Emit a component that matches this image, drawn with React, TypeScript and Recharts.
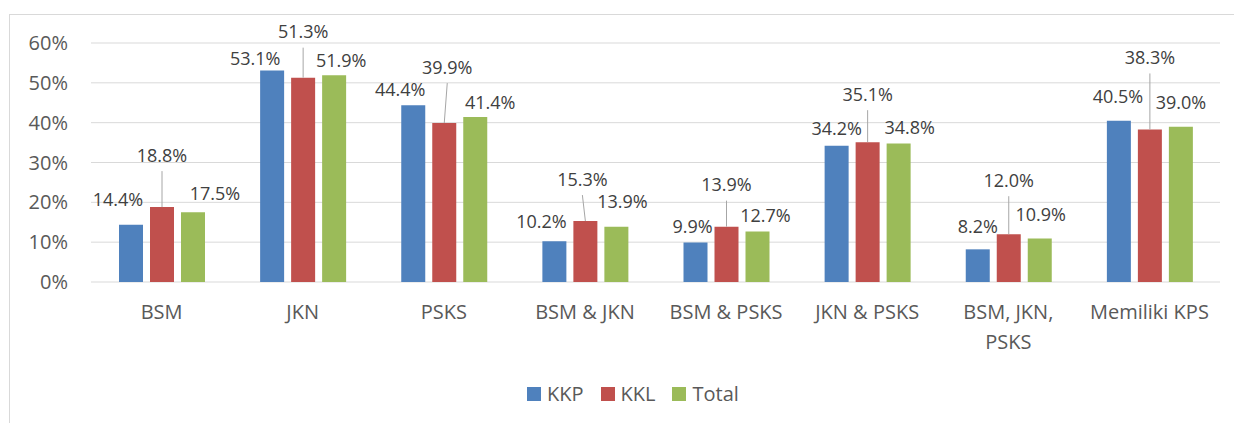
import { BarChart, Bar, XAxis, YAxis, CartesianGrid, LabelList } from "recharts";

const categories = [
  "BSM",
  "JKN",
  "PSKS",
  "BSM & JKN",
  "BSM & PSKS",
  "JKN & PSKS",
  "BSM, JKN, PSKS",
  "Memiliki KPS",
];

const kkp = [14.4, 53.1, 44.4, 10.2, 9.9, 34.2, 8.2, 40.5];
const kkl = [18.8, 51.3, 39.9, 15.3, 13.9, 35.1, 12.0, 38.3];
const total = [17.5, 51.9, 41.4, 13.9, 12.7, 34.8, 10.9, 39.0];

const yTicks = [0, 10, 20, 30, 40, 50, 60];

// label nudges (dx, dy) from the top centre of each bar, like the hand-placed labels in the original
const kkpNudge = [[-13, -25], [-17, -12], [-13, -16], [-13, -20], [-3, -16], [0, -17], [0, -23], [-1, -24]];
const kklNudge = [[0, -52], [0, -46], [3, -56], [-3, -42], [0, -42], [0, -48], [0, -54], [0, -72]];
const totalNudge = [[22, -19], [7, -15], [15, -15], [6, -25], [8, -16], [11, -16], [1, -24], [0, -24]];

const data = categories.map((name, i) => ({
  name,
  kkp: kkp[i],
  kkl: kkl[i],
  total: total[i],
}));

const FONT = "'Open Sans', 'Liberation Sans', sans-serif";

const series = [
  { key: "kkp", label: "KKP", color: "#4F81BD" },
  { key: "kkl", label: "KKL", color: "#C0504D" },
  { key: "total", label: "Total", color: "#9BBB59" },
];

function makeLabel(nudges: number[][], leader: boolean) {
  return (props: any) => {
    const { x, y, width, value, index } = props;
    const [dx, dy] = nudges[index] || [0, -14];
    const cx = Number(x) + Number(width) / 2;
    const top = Number(y);
    const lx = cx + dx;
    const ly = top + dy;
    return (
      <g>
        {leader && (
          <line x1={lx} y1={ly + 16} x2={cx} y2={top} stroke="#a6a6a6" strokeWidth={1} />
        )}
        <text
          x={lx}
          y={ly}
          dy="0.36em"
          textAnchor="middle"
          fill="#404040"
          fontSize={18}
          fontFamily={FONT}
        >
          {Number(value).toFixed(1)}%
        </text>
      </g>
    );
  };
}

// greedy word wrap, about 12 characters a line
function wrap(label: string, max = 12) {
  const lines: string[] = [];
  let cur = "";
  for (const w of label.split(" ")) {
    const next = cur ? cur + " " + w : w;
    if (next.length > max && cur) {
      lines.push(cur);
      cur = w;
    } else {
      cur = next;
    }
  }
  if (cur) lines.push(cur);
  return lines;
}

function CategoryTick(props: any) {
  const { x, y, payload } = props;
  const lines = wrap(String(payload.value));
  return (
    <text x={x} y={y} textAnchor="middle" fill="#595959" fontSize={20} fontFamily={FONT}>
      {lines.map((l, i) => (
        <tspan key={i} x={x} dy={i === 0 ? "0.71em" : 30}>
          {l}
        </tspan>
      ))}
    </text>
  );
}

export default function App() {
  return (
    <div
      style={{
        position: "absolute",
        left: 0,
        top: 0,
        width: 1234,
        height: 423,
        overflow: "hidden",
        background: "#fff",
        fontFamily: FONT,
      }}
    >
      <div
        style={{
          position: "absolute",
          left: 9,
          top: 14,
          width: 1300,
          height: 500,
          border: "1px solid #d9d9d9",
        }}
      />
      <div style={{ position: "absolute", left: 0, top: 0 }}>
        <BarChart
          width={1234}
          height={423}
          data={data}
          margin={{ top: 43, right: 14, bottom: 81, left: 0 }}
          barSize={24}
          barGap={7}
        >
          <CartesianGrid vertical={false} stroke="#d9d9d9" strokeWidth={1} />
          <YAxis
            width={91}
            domain={[0, 60]}
            ticks={yTicks}
            tickFormatter={(v) => `${v}%`}
            axisLine={false}
            tickLine={false}
            tickSize={0}
            tickMargin={23}
            tick={{ fill: "#595959", fontSize: 20, fontFamily: FONT }}
          />
          <XAxis
            dataKey="name"
            height={60}
            axisLine={false}
            tickLine={false}
            tickSize={0}
            tickMargin={23}
            interval={0}
            tick={(p: any) => <CategoryTick {...p} />}
          />
          <Bar dataKey="kkp" fill="#4F81BD" isAnimationActive={false}>
            <LabelList dataKey="kkp" content={makeLabel(kkpNudge, false)} />
          </Bar>
          <Bar dataKey="kkl" fill="#C0504D" isAnimationActive={false}>
            <LabelList dataKey="kkl" content={makeLabel(kklNudge, true)} />
          </Bar>
          <Bar dataKey="total" fill="#9BBB59" isAnimationActive={false}>
            <LabelList dataKey="total" content={makeLabel(totalNudge, false)} />
          </Bar>
        </BarChart>
      </div>
      <div
        style={{
          position: "absolute",
          left: 527,
          top: 382,
          height: 24,
          display: "flex",
          alignItems: "center",
          fontSize: 20,
          color: "#595959",
          lineHeight: "24px",
        }}
      >
        {series.map((s, i) => (
          <div
            key={s.key}
            style={{ display: "flex", alignItems: "center", marginLeft: i === 0 ? 0 : 17 }}
          >
            <span
              style={{ display: "inline-block", width: 14, height: 14, background: s.color, marginRight: 6 }}
            />
            <span>{s.label}</span>
          </div>
        ))}
      </div>
    </div>
  );
}
